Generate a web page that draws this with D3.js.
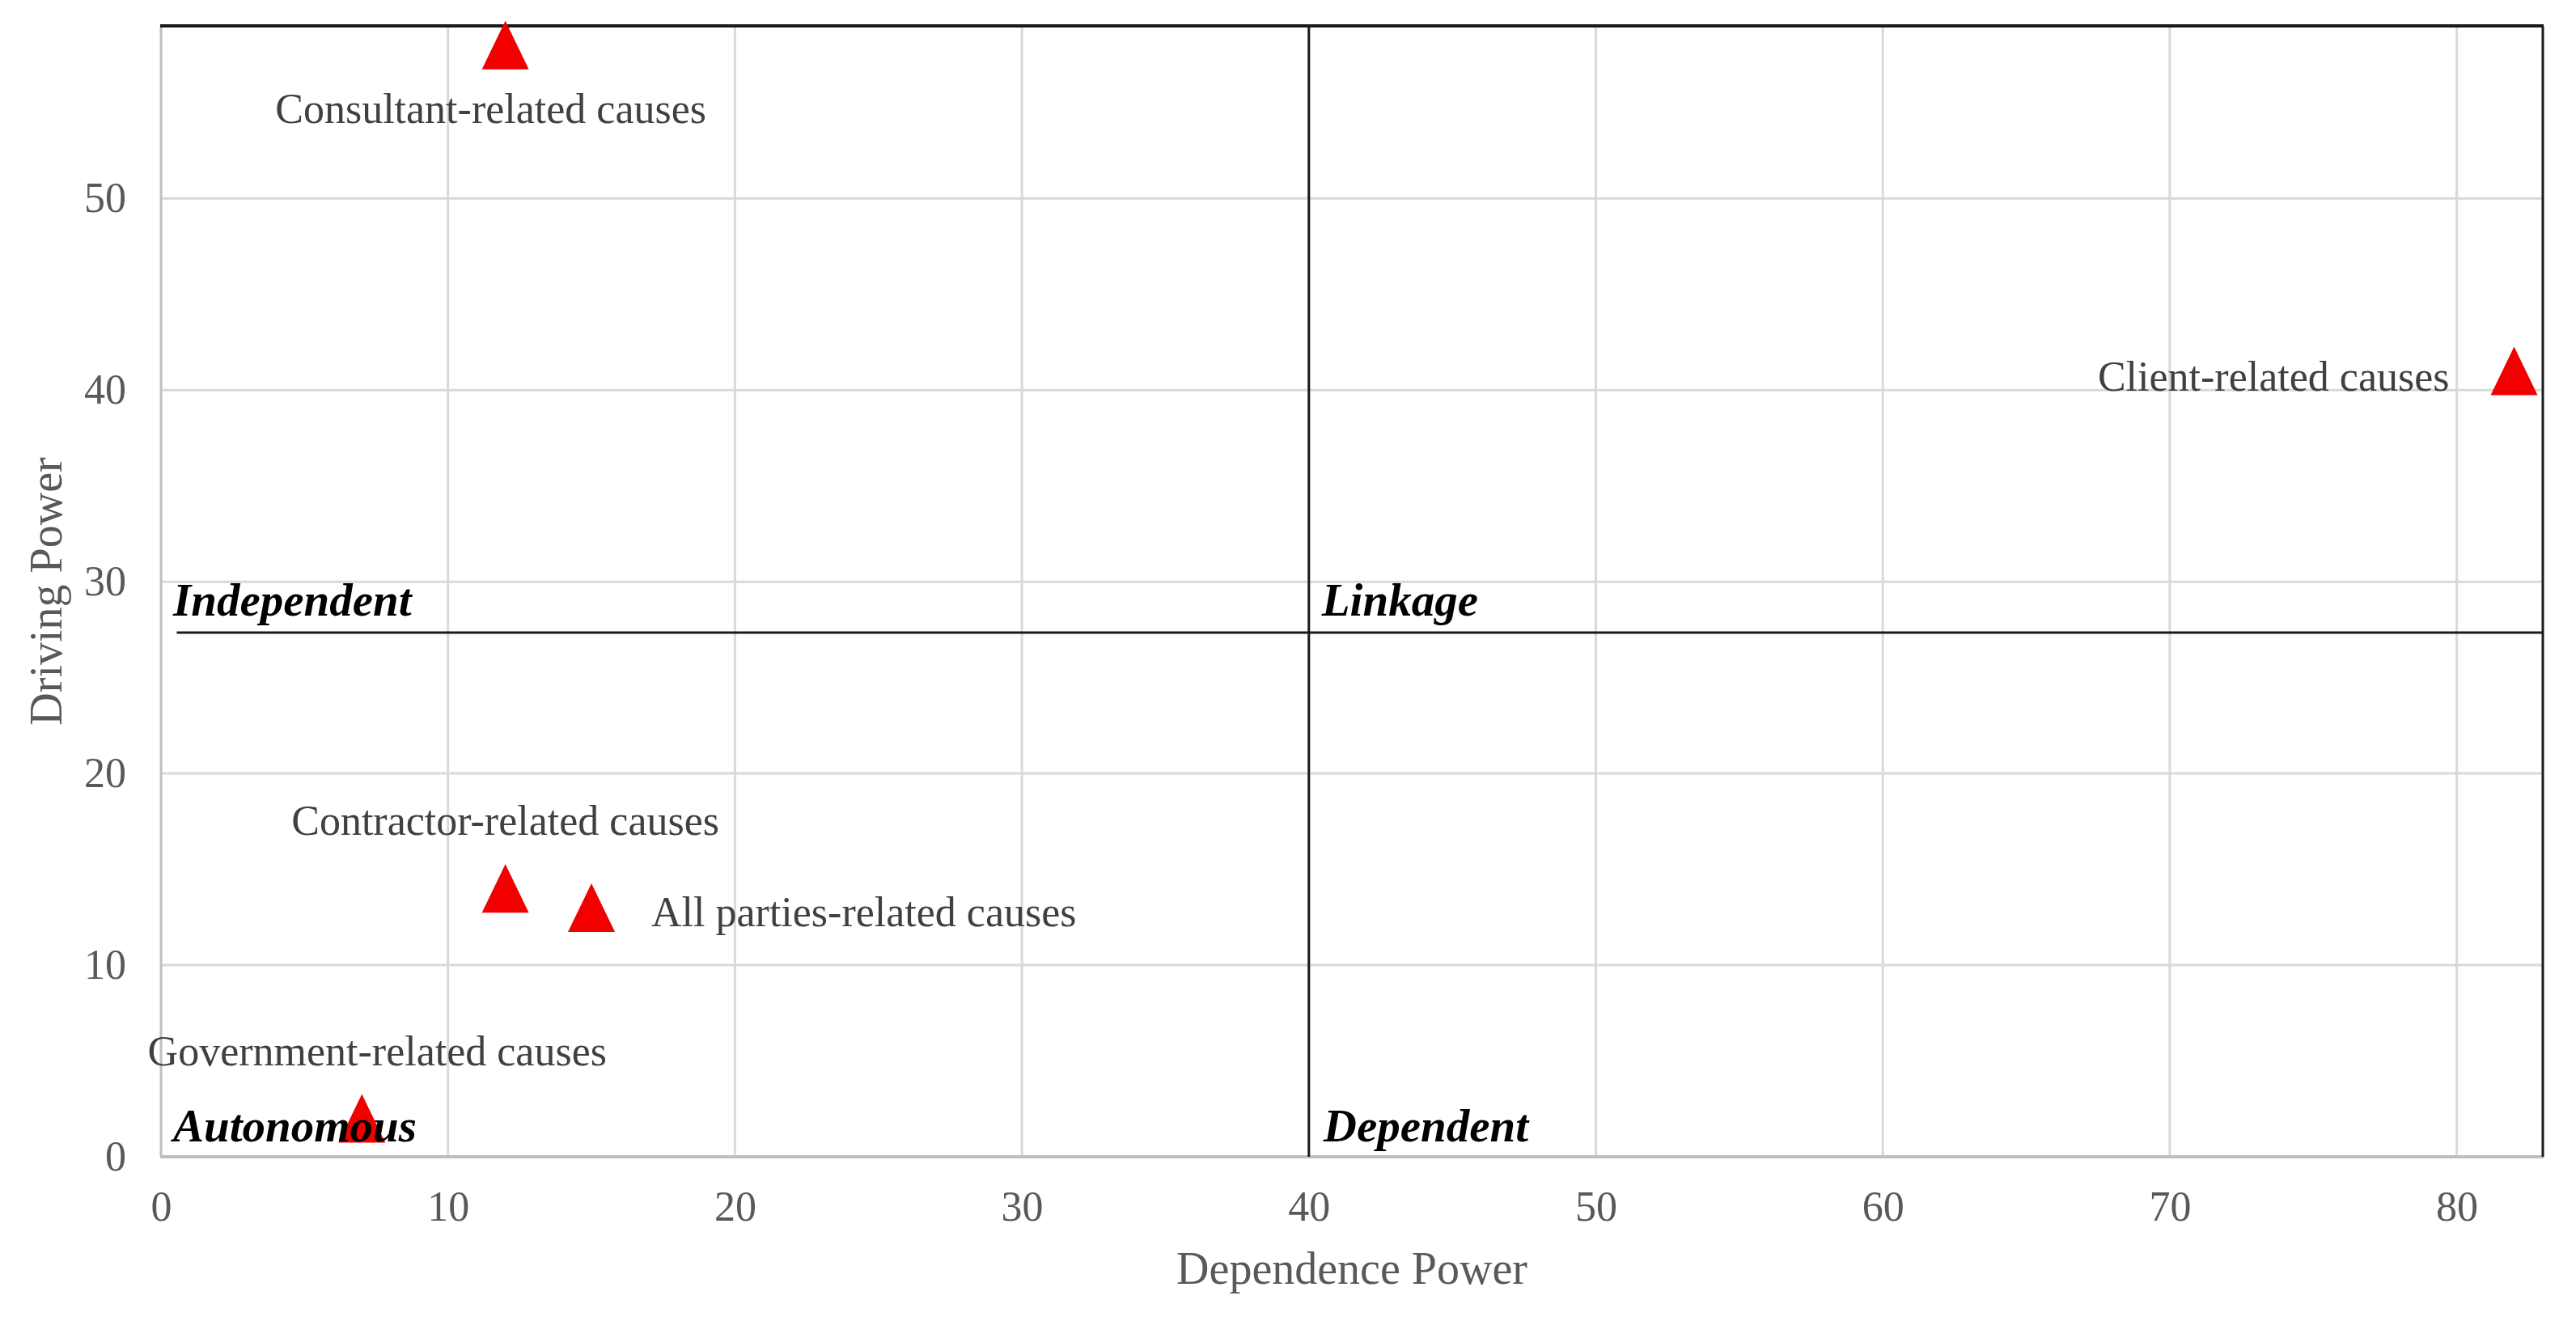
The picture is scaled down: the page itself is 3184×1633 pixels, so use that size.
<!DOCTYPE html>
<html>
<head>
<meta charset="utf-8">
<script src="https://cdn.jsdelivr.net/npm/d3@7"></script>
<style>
  html, body { margin: 0; padding: 0; background: #fff; }
  svg { display: block; }
</style>
</head>
<body>
<svg id="chart" width="3184" height="1633"></svg>
<script>
// ---- data ----
const causes = ["Consultant-related causes", "Client-related causes", "Contractor-related causes", "All parties-related causes", "Government-related causes"];
const dependencePower = [12, 82, 12, 15, 7];
const drivingPower = [58, 41, 14, 13, 2];
const xTicks = [0, 10, 20, 30, 40, 50, 60, 70, 80];
const yTicks = [0, 10, 20, 30, 40, 50];
const quadrantNames = ["Independent", "Linkage", "Autonomous", "Dependent"];
const xDomain = [0, 83];
const yDomain = [0, 59];
const xSplit = 40;
const ySplit = 27.35;

// ---- layout / style (not data) ----
const W = 3184, H = 1633;
const plot = { left: 199, right: 3143, top: 32, bottom: 1430 };
const labelPlacement = [
  { dx: -18, dy: 96, anchor: "middle" },
  { dx: -80, dy: 24, anchor: "end" },
  { dx: 0, dy: -66, anchor: "middle" },
  { dx: 74, dy: 23, anchor: "start" },
  { dx: 19, dy: -66, anchor: "middle" }
];
const serif = "'Liberation Serif', 'Times New Roman', Times, serif";

const svg = d3.select("#chart");
const x = d3.scaleLinear().domain(xDomain).range([plot.left, plot.right]);
const y = d3.scaleLinear().domain(yDomain).range([plot.bottom, plot.top]);

// gridlines
const grid = svg.append("g");
grid.selectAll("line.vg").data(xTicks.filter(d => d > 0))
  .join("line")
  .attr("x1", d => x(d)).attr("x2", d => x(d))
  .attr("y1", plot.top).attr("y2", plot.bottom)
  .attr("stroke", "#d9d9d9").attr("stroke-width", 3);
grid.selectAll("line.hg").data(yTicks.filter(d => d > 0))
  .join("line")
  .attr("x1", plot.left).attr("x2", plot.right)
  .attr("y1", d => y(d)).attr("y2", d => y(d))
  .attr("stroke", "#d9d9d9").attr("stroke-width", 3);

// axes
const xAxis = svg.append("g")
  .attr("transform", `translate(0,${plot.bottom})`)
  .call(d3.axisBottom(x).tickValues(xTicks).tickSize(0).tickPadding(42).tickFormat(d3.format("d")));
xAxis.select(".domain").remove();
xAxis.selectAll("text")
  .attr("font-family", serif).attr("font-size", 52).attr("fill", "#595959");

const yAxis = svg.append("g")
  .attr("transform", `translate(${plot.left},0)`)
  .call(d3.axisLeft(y).tickValues(yTicks).tickSize(0).tickPadding(43).tickFormat(d3.format("d")));
yAxis.select(".domain").remove();
yAxis.selectAll("text")
  .attr("font-family", serif).attr("font-size", 52).attr("fill", "#595959");

// frame
svg.append("line").attr("x1", plot.left).attr("x2", plot.left)
  .attr("y1", plot.top).attr("y2", plot.bottom)
  .attr("stroke", "#bfbfbf").attr("stroke-width", 3);
svg.append("line").attr("x1", plot.left - 1).attr("x2", plot.right + 1)
  .attr("y1", plot.bottom).attr("y2", plot.bottom)
  .attr("stroke", "#bfbfbf").attr("stroke-width", 4);
svg.append("line").attr("x1", plot.left - 1).attr("x2", plot.right + 1)
  .attr("y1", plot.top).attr("y2", plot.top)
  .attr("stroke", "#1a1a1a").attr("stroke-width", 4);
svg.append("line").attr("x1", plot.right).attr("x2", plot.right)
  .attr("y1", plot.top).attr("y2", plot.bottom)
  .attr("stroke", "#1a1a1a").attr("stroke-width", 3);

// quadrant dividers
svg.append("line").attr("x1", x(xSplit)).attr("x2", x(xSplit))
  .attr("y1", plot.top).attr("y2", plot.bottom)
  .attr("stroke", "#1a1a1a").attr("stroke-width", 3);
svg.append("line").attr("x1", x(0.55)).attr("x2", plot.right)
  .attr("y1", y(ySplit)).attr("y2", y(ySplit))
  .attr("stroke", "#1a1a1a").attr("stroke-width", 3);

// points (triangles)
const tri = "M0,-30L29,30L-29,30Z";
const pts = causes.map((c, i) => ({ name: c, xv: dependencePower[i], yv: drivingPower[i], p: labelPlacement[i] }));
svg.append("g").selectAll("path").data(pts).join("path")
  .attr("d", tri)
  .attr("transform", d => `translate(${x(d.xv)},${y(d.yv)})`)
  .attr("fill", "#f20000");

// point labels
svg.append("g").selectAll("text").data(pts).join("text")
  .attr("x", d => x(d.xv) + d.p.dx)
  .attr("y", d => y(d.yv) + d.p.dy)
  .attr("text-anchor", d => d.p.anchor)
  .attr("font-family", serif).attr("font-size", 52).attr("fill", "#404040")
  .text(d => d.name);

// quadrant labels
const qPos = [
  { xv: 0, yv: ySplit, dx: 15, dy: -21 },
  { xv: xSplit, yv: ySplit, dx: 16, dy: -21 },
  { xv: 0, yv: 0, dx: 15, dy: -19 },
  { xv: xSplit, yv: 0, dx: 18, dy: -19 }
];
svg.append("g").selectAll("text").data(quadrantNames).join("text")
  .attr("x", (d, i) => x(qPos[i].xv) + qPos[i].dx)
  .attr("y", (d, i) => y(qPos[i].yv) + qPos[i].dy)
  .attr("font-family", serif).attr("font-size", 57)
  .attr("font-weight", "bold").attr("font-style", "italic").attr("fill", "#000")
  .text(d => d);

// axis titles
svg.append("text")
  .attr("x", (plot.left + plot.right) / 2).attr("y", 1587)
  .attr("text-anchor", "middle")
  .attr("font-family", serif).attr("font-size", 56).attr("fill", "#595959")
  .text("Dependence Power");
svg.append("text")
  .attr("transform", `translate(76,${(plot.top + plot.bottom) / 2}) rotate(-90)`)
  .attr("text-anchor", "middle")
  .attr("font-family", serif).attr("font-size", 56).attr("fill", "#595959")
  .text("Driving Power");
</script>
</body>
</html>
